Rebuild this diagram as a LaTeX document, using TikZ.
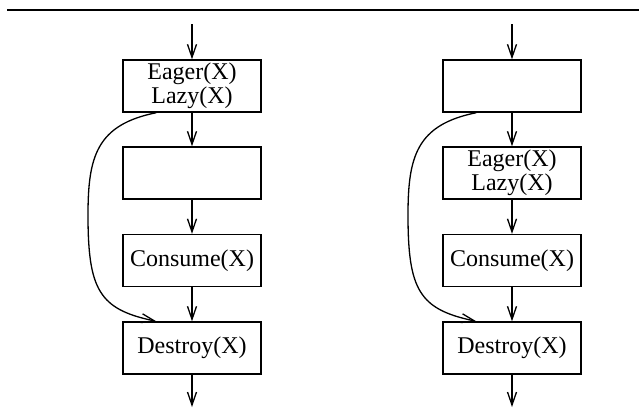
\documentclass[tikz,border=0pt]{standalone}
\usepackage{fontspec}
\setmainfont{Liberation Serif}
\usetikzlibrary{arrows.meta}
\begin{document}
\begin{tikzpicture}[x=1pt,y=-1pt,
  box/.style={draw,line width=1.4pt,minimum width=138pt,minimum height=52pt,inner sep=0pt,align=center,font=\fontsize{24}{23.5}\selectfont},
  conn/.style={line width=1.3pt,-{Straight Barb[length=13pt,width=9pt,line width=1.3pt]}},
  rule/.style={line width=2pt}]
\useasboundingbox (0,0) rectangle (639,408);
\coordinate (ruleL) at (7,10);
\coordinate (ruleR) at (639,10);
\draw[rule] (ruleL) -- (ruleR);
% left column
\node[box] (a1) at (192,86) {Eager(X)\\Lazy(X)};
\node[box] (a2) at (192,173) {};
\node[box] (a3) at (192,260.5) {Consume(X)};
\node[box] (a4) at (192,348) {Destroy(X)};
\coordinate (atop) at (192,24);
\coordinate (abot) at (192,407);
\coordinate (acl) at (88,215);
\draw[conn] (atop) -- (a1);
\draw[conn] (a1) -- (a2);
\draw[conn] (a2) -- (a3);
\draw[conn] (a3) -- (a4);
\draw[conn] (a4) -- (abot);
\draw[conn] ([xshift=34pt]a1.south west) .. controls +(-60,12) and +(0,-58) .. (acl) .. controls +(0,75) and +(-57,-12) .. ([xshift=34pt]a4.north west);
% right column
\node[box] (b1) at (512,86) {};
\node[box] (b2) at (512,173) {Eager(X)\\Lazy(X)};
\node[box] (b3) at (512,260.5) {Consume(X)};
\node[box] (b4) at (512,348) {Destroy(X)};
\coordinate (btop) at (512,24);
\coordinate (bbot) at (512,407);
\coordinate (bcl) at (408,215);
\draw[conn] (btop) -- (b1);
\draw[conn] (b1) -- (b2);
\draw[conn] (b2) -- (b3);
\draw[conn] (b3) -- (b4);
\draw[conn] (b4) -- (bbot);
\draw[conn] ([xshift=34pt]b1.south west) .. controls +(-60,12) and +(0,-58) .. (bcl) .. controls +(0,75) and +(-57,-12) .. ([xshift=34pt]b4.north west);
\end{tikzpicture}
\end{document}
